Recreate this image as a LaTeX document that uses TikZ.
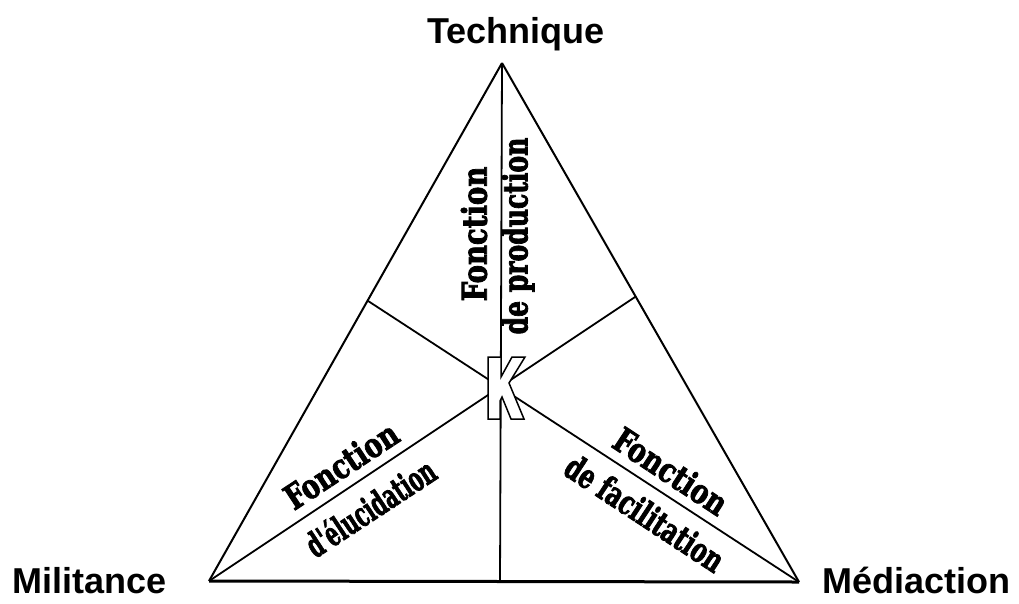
\documentclass[tikz,border=0pt]{standalone}
\usepackage{fontspec}
\newfontfamily\sanslab{Liberation Sans}
\newfontfamily\serflab[FakeBold=2.5]{DejaVu Serif Condensed}
\newcommand{\sqz}[2]{\scalebox{#1}[1]{#2}}
\begin{document}
\begin{tikzpicture}[x=1pt,y=-1pt,
  vertexlabel/.style={font=\sanslab\bfseries\fontsize{36}{40}\selectfont, inner sep=0pt},
  fnlabel/.style={font=\serflab\bfseries\fontsize{34}{38}\selectfont, inner sep=0pt},
  side/.style={line width=2pt, line join=miter},
  divider/.style={line width=1.8pt}]
\useasboundingbox (0,0) rectangle (1019,603);
% vertices
\coordinate (T) at (502,63);
\coordinate (L) at (209,581);
\coordinate (R) at (799,582);
\coordinate (O) at (500,387);
\coordinate (mb) at (500,582);
\coordinate (ml) at (intersection of R--O and T--L);
\coordinate (mr) at (intersection of L--O and T--R);
% triangle
\draw[side] (T) -- (L);
\draw[side] (T) -- (R);
\draw[line width=3pt] (L) -- (R);
% dividers
\draw[divider] (T) -- (mb);
\draw[divider] (L) -- (mr);
\draw[divider] (R) -- (ml);
% K
\filldraw[fill=white, draw=black, line width=1.5pt, line join=miter]
  (488,357) -- (501,357) -- (501,377) -- (512,357) -- (525,357) -- (509,383)
  -- (524,419) -- (511,419) -- (502,397) -- (500,401) -- (500,419) -- (488,419) -- cycle;
% vertex labels
\node[vertexlabel, anchor=base] (tech) at (516,43) {Technique};
\node[vertexlabel, anchor=base west] (mil) at (12,593) {Militance};
\node[vertexlabel, anchor=base west] (med) at (822,593) {Médiaction};
% function labels
\node[fnlabel, rotate=90] (f1a) at (474,234) {\sqz{0.9}{Fonction}};
\node[fnlabel, rotate=90] (f1b) at (518,236) {\sqz{0.82}{de production}};
\node[fnlabel, rotate=33.3] (f2a) at (341,465) {\sqz{0.86}{Fonction}};
\node[fnlabel, rotate=33.3] (f2b) at (370,507) {\sqz{0.66}{d'élucidation}};
\node[fnlabel, rotate=-33.3] (f3a) at (671,471) {\sqz{0.86}{Fonction}};
\node[fnlabel, rotate=-33.3] (f3b) at (645,513) {\sqz{0.76}{de facilitation}};
\end{tikzpicture}
\end{document}
